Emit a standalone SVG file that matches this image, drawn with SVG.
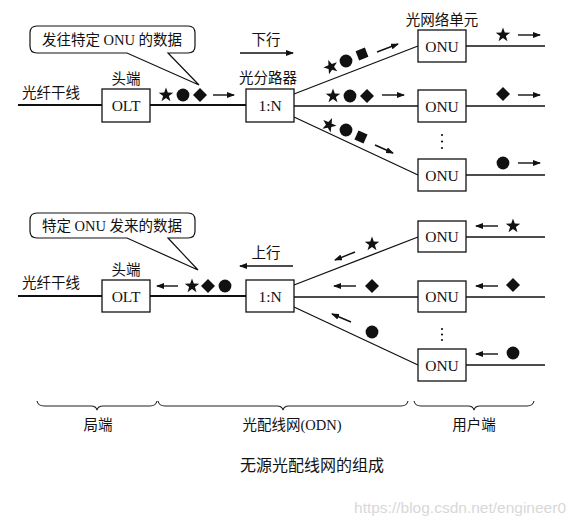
<svg xmlns="http://www.w3.org/2000/svg" width="576" height="526" viewBox="0 0 576 526">
<style>
.box{fill:#fff;stroke:#111;stroke-width:1.3}
.ln{stroke:#111;stroke-width:1.3;fill:none}
.trunk{stroke:#111;stroke-width:2;fill:none}
.arr{stroke:#111;stroke-width:1.4;fill:none;marker-end:url(#ah)}
.cn{font-family:"Noto Sans CJK SC","Noto Sans",sans-serif;font-size:14.5px;fill:#111}
.lat{font-family:"Liberation Serif","Noto Sans CJK SC",serif;font-size:15.5px;fill:#111}
.mix{font-family:"Liberation Serif","Noto Sans CJK SC",serif;font-size:14.5px;fill:#111}
.sym{fill:#111}
.bubble{fill:#fff;stroke:#111;stroke-width:1.2}
.brace{fill:none;stroke:#222;stroke-width:1.1}
.c{text-anchor:middle}
</style>
<defs>
<marker id="ah" markerUnits="userSpaceOnUse" markerWidth="8" markerHeight="6" refX="7" refY="3" orient="auto">
<path d="M0,0 L8,3 L0,6 Z" fill="#111"/>
</marker>
<path id="star" d="M0,-7.6 L1.8,-2.45 L7.23,-2.35 L2.9,0.94 L4.47,6.15 L0,3.05 L-4.47,6.15 L-2.9,0.94 L-7.23,-2.35 L-1.8,-2.45 Z"/>
<path id="dia" d="M0,-7 L7,0 L0,7 L-7,0 Z"/>
<circle id="dot" r="6.4"/>
</defs>

<g id="connectors">
  <line class="trunk" x1="18" y1="105" x2="102" y2="105"/>
  <line class="trunk" x1="150" y1="105" x2="246" y2="105"/>
  <line class="ln" x1="294" y1="94" x2="418" y2="46"/>
  <line class="ln" x1="294" y1="106" x2="418" y2="106"/>
  <line class="ln" x1="294" y1="117" x2="418" y2="175"/>
  <line class="ln" x1="466" y1="46" x2="545" y2="46"/>
  <line class="ln" x1="466" y1="106" x2="545" y2="106"/>
  <line class="ln" x1="466" y1="175" x2="545" y2="175"/>

  <line class="trunk" x1="18" y1="296" x2="102" y2="296"/>
  <line class="trunk" x1="150" y1="296" x2="246" y2="296"/>
  <line class="ln" x1="294" y1="285" x2="418" y2="237"/>
  <line class="ln" x1="294" y1="297" x2="418" y2="297"/>
  <line class="ln" x1="294" y1="307" x2="418" y2="365"/>
  <line class="ln" x1="466" y1="237" x2="545" y2="237"/>
  <line class="ln" x1="466" y1="297" x2="545" y2="297"/>
  <line class="ln" x1="466" y1="365" x2="545" y2="365"/>
</g>

<g id="callout-down">
  <path class="bubble" d="M127,53 L37,53 Q30,53 30,46 L30,33 Q30,26 37,26 L188,26 Q195,26 195,33 L195,46 Q195,53 188,53 L168,53 L199,85 Z"/>
  <text class="mix c" x="112" y="45">发往特定 ONU 的数据</text>
</g>
<g id="dir-down">
  <text class="cn c" x="266" y="45">下行</text>
  <line class="arr" x1="240" y1="53" x2="293" y2="53"/>
</g>
<text class="cn" x="22" y="98">光纤干线</text>

<g id="olt-top">
  <text class="cn c" x="126" y="84">头端</text>
  <rect class="box" x="102" y="89" width="48" height="33"/>
  <text class="lat c" x="126" y="111">OLT</text>
</g>
<g id="splitter-top">
  <text class="cn c" x="268" y="83">光分路器</text>
  <rect class="box" x="246" y="89" width="48" height="33"/>
  <text class="lat c" x="270" y="111">1:N</text>
</g>
<text class="cn c" x="442" y="25">光网络单元</text>
<g id="onu-top-1">
  <rect class="box" x="418" y="30" width="48" height="32"/>
  <text class="lat c" x="442" y="52">ONU</text>
</g>
<g id="onu-top-2">
  <rect class="box" x="418" y="90" width="48" height="32"/>
  <text class="lat c" x="442" y="112">ONU</text>
</g>
<g id="onu-top-3">
  <rect class="box" x="418" y="159" width="48" height="32"/>
  <text class="lat c" x="442" y="181">ONU</text>
</g>
<g id="dots-top" class="sym">
  <circle cx="442" cy="135" r="1.1"/><circle cx="442" cy="141.5" r="1.1"/><circle cx="442" cy="148" r="1.1"/>
</g>

<g id="data-down" class="sym">
  <use href="#star" x="166" y="95"/><use href="#dot" x="183" y="95"/><use href="#dia" x="200" y="95"/>
  <line class="arr" x1="213" y1="95" x2="234" y2="95"/>
  <use href="#star" transform="translate(331,67) rotate(-21)"/>
  <use href="#dot" x="346" y="61"/>
  <use href="#dia" transform="translate(362,54) rotate(24)"/>
  <line class="arr" x1="377" y1="52" x2="398" y2="44"/>
  <use href="#star" x="333" y="96"/><use href="#dot" x="350" y="96"/><use href="#dia" x="367" y="96"/>
  <line class="arr" x1="382" y1="95" x2="404" y2="95"/>
  <use href="#star" transform="translate(329,125) rotate(24)"/>
  <use href="#dot" x="346" y="130"/>
  <use href="#dia" transform="translate(361,137) rotate(69)"/>
  <line class="arr" x1="375" y1="145" x2="393" y2="153"/>
  <use href="#star" x="503" y="35"/>
  <line class="arr" x1="518" y1="35" x2="540" y2="35"/>
  <use href="#dia" x="503" y="94"/>
  <line class="arr" x1="518" y1="95" x2="540" y2="95"/>
  <use href="#dot" x="503" y="163"/>
  <line class="arr" x1="518" y1="163" x2="540" y2="163"/>
</g>

<g id="callout-up">
  <path class="bubble" d="M127,238 L37,238 Q30,238 30,231 L30,220 Q30,213 37,213 L188,213 Q195,213 195,220 L195,231 Q195,238 188,238 L168,238 L198,270 Z"/>
  <text class="mix c" x="112" y="231">特定 ONU 发来的数据</text>
</g>
<g id="dir-up">
  <text class="cn c" x="266" y="258">上行</text>
  <line class="arr" x1="293" y1="266" x2="240" y2="266"/>
</g>
<text class="cn" x="22" y="288">光纤干线</text>

<g id="olt-bottom">
  <text class="cn c" x="126" y="275">头端</text>
  <rect class="box" x="102" y="280" width="48" height="32"/>
  <text class="lat c" x="126" y="302">OLT</text>
</g>
<g id="splitter-bottom">
  <rect class="box" x="246" y="280" width="48" height="32"/>
  <text class="lat c" x="270" y="302">1:N</text>
</g>
<g id="onu-bottom-1">
  <rect class="box" x="418" y="221" width="48" height="31"/>
  <text class="lat c" x="442" y="242">ONU</text>
</g>
<g id="onu-bottom-2">
  <rect class="box" x="418" y="281" width="48" height="31"/>
  <text class="lat c" x="442" y="302">ONU</text>
</g>
<g id="onu-bottom-3">
  <rect class="box" x="418" y="349" width="48" height="32"/>
  <text class="lat c" x="442" y="371">ONU</text>
</g>
<g id="dots-bottom" class="sym">
  <circle cx="442" cy="329" r="1.1"/><circle cx="442" cy="334.5" r="1.1"/><circle cx="442" cy="340" r="1.1"/>
</g>

<g id="data-up" class="sym">
  <line class="arr" x1="178" y1="286" x2="157" y2="286"/>
  <use href="#star" x="192" y="286"/><use href="#dia" x="208" y="286"/><use href="#dot" x="225" y="286"/>
  <use href="#star" x="372" y="244"/>
  <line class="arr" x1="355" y1="252" x2="335" y2="260"/>
  <use href="#dia" x="372" y="286"/>
  <line class="arr" x1="356" y1="286" x2="334" y2="286"/>
  <use href="#dot" x="372" y="332"/>
  <line class="arr" x1="351" y1="322" x2="332" y2="314"/>
  <line class="arr" x1="498" y1="226" x2="476" y2="226"/>
  <use href="#star" x="513" y="226"/>
  <line class="arr" x1="498" y1="286" x2="476" y2="286"/>
  <use href="#dia" x="513" y="285"/>
  <line class="arr" x1="498" y1="354" x2="476" y2="354"/>
  <use href="#dot" x="513" y="353"/>
</g>

<g id="zone-local">
  <path class="brace" d="M37,401 Q38,406 44,406 L91,406 Q96,406 97,410 Q98,406 103,406 L150,406 Q156,406 157,401"/>
  <text class="cn c" x="98" y="430">局端</text>
</g>
<g id="zone-odn">
  <path class="brace" d="M158,401 Q159,406 165,406 L277,406 Q282,406 283,410 Q284,406 289,406 L401,406 Q407,406 408,401"/>
  <text class="mix c" x="292" y="430">光配线网(ODN)</text>
</g>
<g id="zone-user">
  <path class="brace" d="M414,401 Q415,406 421,406 L468,406 Q473,406 474,410 Q475,406 480,406 L527,406 Q533,406 534,401"/>
  <text class="cn c" x="474" y="430">用户端</text>
</g>
<text class="cn c" x="312" y="471" style="font-size:16px">无源光配线网的组成</text>
<text x="566" y="513" text-anchor="end" style="font-family:'Liberation Sans',Arial,sans-serif;font-size:15.5px;fill:#d8d8d8">https://blog.csdn.net/engineer0</text>
</svg>
